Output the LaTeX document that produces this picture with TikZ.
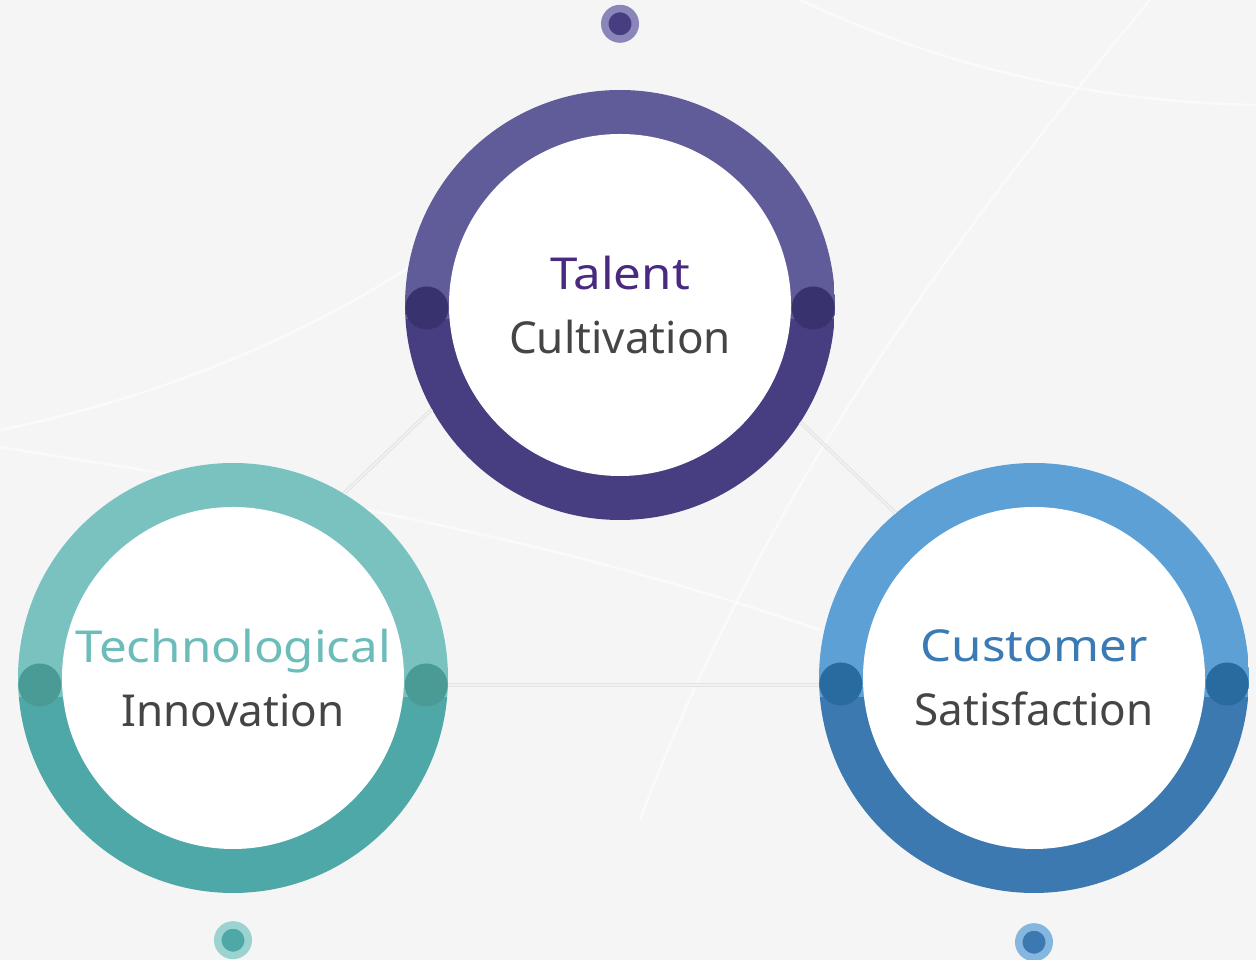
\documentclass[tikz,border=0pt]{standalone}
\usepackage{fontspec}
\setmainfont{Noto Sans}
\newfontfamily\headfont[FakeStretch=1.12]{Noto Sans}
\usetikzlibrary{positioning}

\definecolor{paper}{HTML}{F5F5F5}
\definecolor{talentLight}{HTML}{5F5C99}
\definecolor{talentDark}{HTML}{463E80}
\definecolor{talentCap}{HTML}{38336E}
\definecolor{talentText}{HTML}{4A2A80}
\definecolor{talentHalo}{HTML}{8A86BA}
\definecolor{techLight}{HTML}{79C2BF}
\definecolor{techDark}{HTML}{4EA8A7}
\definecolor{techCap}{HTML}{4A9A95}
\definecolor{techText}{HTML}{6CBDBA}
\definecolor{techHalo}{HTML}{9CD2CF}
\definecolor{custLight}{HTML}{5CA0D5}
\definecolor{custDark}{HTML}{3B79B0}
\definecolor{custCap}{HTML}{2A6B9F}
\definecolor{custText}{HTML}{3A7AB5}
\definecolor{custHalo}{HTML}{84B6E0}
\definecolor{bodyText}{HTML}{454545}

\tikzset{
  hub/.style n args={3}{circle, minimum size=430pt, inner sep=0pt, align=center,
    font=\fontsize{44}{64}\selectfont, text=bodyText,
    path picture={
      \fill[#1] (path picture bounding box.north west) rectangle ([yshift=-#3]path picture bounding box.east);
      \fill[#2] ([yshift=-#3]path picture bounding box.west) rectangle (path picture bounding box.south east);
      \fill[white] (path picture bounding box.center) circle (171pt);
    }},
  bead/.style 2 args={circle, inner sep=0pt, minimum size=30.5pt, line width=7.5pt, draw=#1, fill=#2},
  link/.style={draw=black!11, line width=1pt, double=black!5, double distance=1.6pt},
  glint/.style={white, line width=2.5pt, opacity=.55},
}

\begin{document}
\begin{tikzpicture}[x=1pt,y=1pt]
  \fill[paper] (0,0) rectangle (1256,960);
  \useasboundingbox (0,0) rectangle (1256,960);

  % light streaks in the background
  \draw[glint] (800,960) .. controls (950,890) and (1100,858) .. (1256,855);
  \draw[glint] (1150,960) .. controls (950,720) and (760,460) .. (640,140);
  \draw[glint] (0,530) .. controls (150,560) and (300,620) .. (420,700);
  \draw[glint] (0,513) .. controls (200,480) and (500,440) .. (820,330);

  \node[hub={talentLight}{talentDark}{14pt}] (talent) at (620,655)
    {\textcolor{talentText}{\headfont Talent}\\Cultivation};
  \node[hub={techLight}{techDark}{19pt}] (tech) at (233,282)
    {\textcolor{techText}{\headfont Technological}\\Innovation};
  \node[hub={custLight}{custDark}{19pt}] (cust) at (1034,282)
    {\textcolor{custText}{\headfont Customer}\\Satisfaction};

  \draw[link] (talent.209) -- (tech.59);
  \draw[link] (talent.327) -- (cust.130);
  \draw[link] ([yshift=-7]tech.east) -- ([yshift=-7]cust.west);

  % ring ends
  \fill[talentCap] ([shift={(22,-3)}]talent.west) circle (21.5);
  \fill[talentCap] ([shift={(-22,-3)}]talent.east) circle (21.5);
  \fill[techCap] ([shift={(22,-7)}]tech.west) circle (21.5);
  \fill[techCap] ([shift={(-22,-7)}]tech.east) circle (21.5);
  \fill[custCap] ([shift={(22,-6)}]cust.west) circle (21.5);
  \fill[custCap] ([shift={(-22,-6)}]cust.east) circle (21.5);

  \node[bead={talentHalo}{talentDark}] (talentmark) [above=47pt of talent] {};
  \node[bead={techHalo}{techDark}] (techmark) [below=28pt of tech] {};
  \node[bead={custHalo}{custDark}] (custmark) [below=30pt of cust] {};
\end{tikzpicture}
\end{document}
